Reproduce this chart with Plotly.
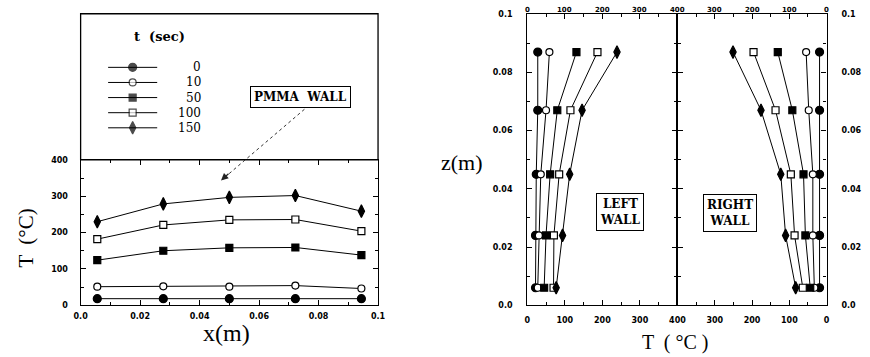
import plotly.graph_objects as go

# ---- data -------------------------------------------------------------
times = [0, 10, 50, 100, 150]          # s
time_labels = ["0", "10", "50", "100", "150"]

# PMMA wall: temperature along x
x_pos = [0.0056, 0.0278, 0.05, 0.0722, 0.0944]     # m
pmma_t0 = [18, 18, 18, 18, 18]
pmma_t10 = [51, 52, 51, 54, 46]
pmma_t50 = [124, 150, 158, 159, 138]
pmma_t100 = [182, 221, 235, 236, 204]
pmma_t150 = [230, 279, 297, 302, 259]

# side walls: temperature along z
z_pos = [0.006, 0.024, 0.045, 0.067, 0.087]         # m
left_t0 = [22, 22, 24, 28, 28]
left_t10 = [28, 31, 36, 50, 59]
left_t50 = [45, 50, 61, 80, 131]
left_t100 = [70, 71, 85, 115, 187]
left_t150 = [77, 94, 113, 146, 239]

right_t0 = [19, 19, 19, 19, 19]
right_t10 = [33, 37, 37, 48, 55]
right_t50 = [44, 57, 62, 92, 131]
right_t100 = [64, 86, 96, 137, 196]
right_t150 = [83, 110, 123, 176, 251]

x_ticks = [0, 0.02, 0.04, 0.06, 0.08, 0.1]
x_ticktext = ["0.0", "0.02", "0.04", "0.06", "0.08", "0.1"]
T_ticks = [0, 100, 200, 300, 400]
T_ticktext = ["0", "100", "200", "300", "400"]
z_ticks = [0, 0.02, 0.04, 0.06, 0.08, 0.1]
z_ticktext = ["0.0", "0.02", "0.04", "0.06", "0.08", "0.1"]

pmma_series = [pmma_t0, pmma_t10, pmma_t50, pmma_t100, pmma_t150]
left_series = [left_t0, left_t10, left_t50, left_t100, left_t150]
right_series = [right_t0, right_t10, right_t50, right_t100, right_t150]

# ---- page geometry (pixels) -------------------------------------------
W, H = 870, 357


def px(x):
    return x / W


def py(y):
    return 1 - y / H


L_X0, L_X1 = 75, 378        # left chart plot box
L_YB, L_YT = 309, 160       # lower panel (T axis)
BOX_TOP = 10                # legend box top
R_X0, R_MID, R_X1 = 530, 683, 835
R_YB, R_YT = 309, 10.5

# marker styles per time
sym = ["circle", "circle", "square", "square", "diamond-tall"]
fill = ["black", "white", "black", "white", "black"]
msize = [8, 7, 7, 7, 9]

tickfont = dict(family="DejaVu Sans", size=8, color="black", weight="bold")
topfont = dict(family="DejaVu Sans", size=7, color="black", weight="bold")
serif = "DejaVu Serif"


def axis(**kw):
    base = dict(showline=True, linecolor="black", linewidth=1.3,
                ticks="inside", ticklen=5, tickwidth=1, tickcolor="black",
                showgrid=False, zeroline=False, mirror="allticks",
                tickfont=tickfont)
    base.update(kw)
    return base


def minor(step):
    return dict(tickmode="linear", tick0=0, dtick=step, ticks="inside",
                ticklen=3, tickcolor="black")


fig = go.Figure()


def add_series(xs, ys, i, xa, ya, swap=False):
    fig.add_trace(go.Scatter(
        x=ys if swap else xs, y=xs if swap else ys,
        xaxis=xa, yaxis=ya, mode="lines+markers", showlegend=False,
        line=dict(color="black", width=1),
        marker=dict(symbol=sym[i], size=msize[i], color=fill[i],
                    line=dict(color="black", width=1.2)),
        hoverinfo="skip"))


for i in range(len(times)):
    add_series(x_pos, pmma_series[i], i, "x", "y")
    add_series(z_pos, left_series[i], i, "x3", "y3", swap=True)
    add_series(z_pos, right_series[i], i, "x4", "y4", swap=True)

# legend key drawn in the upper box (pixel-scaled helper axes)
key_x = [103, 128, 153]
for i in range(len(times)):
    row = 65 + 15.5 * i
    fig.add_trace(go.Scatter(
        x=key_x, y=[row] * 3, xaxis="x5", yaxis="y5",
        mode="lines+markers", showlegend=False, hoverinfo="skip",
        line=dict(color="black", width=1),
        marker=dict(symbol=sym[i], size=[0, msize[i], 0], color=fill[i],
                    line=dict(color="black", width=[0, 1.2, 0]))))


def note(x, y, text, size, family=serif, bold=False, **kw):
    d = dict(xref="paper", yref="paper", x=px(x), y=py(y), text=text,
             xanchor="center", yanchor="middle", showarrow=False,
             font=dict(family=family, size=size, color="black",
                       weight="bold" if bold else "normal"))
    d.update(kw)
    return d


annotations = []
for i, lab in enumerate(time_labels):
    annotations.append(dict(
        xref="x5", yref="y5", x=200, y=65 + 15.5 * i, text=lab,
        xanchor="right", yanchor="middle", showarrow=False,
        font=dict(family=serif, size=12, color="black")))
annotations.append(dict(
    xref="x5", yref="y5", x=155, y=33, text="t  (sec)", showarrow=False,
    xanchor="center", yanchor="middle",
    font=dict(family=serif, size=13, color="black", weight="bold")))

# boxed labels
box = dict(bordercolor="black", borderwidth=1, borderpad=3, align="center")
annotations.append(note(299.5, 95, "PMMA  WALL", 12, bold=True, **box))
annotations.append(note(624.5, 213.5, "LEFT<br>WALL", 12, bold=True, **box))
annotations.append(note(736.5, 214, "RIGHT<br>WALL", 12, bold=True, **box))

# pointer from the PMMA label to the curves: dotted shaft + arrow head
ARROW_TAIL = (303, 108)
ARROW_HEAD = (218, 181)
annotations.append(dict(
    xref="paper", yref="paper", x=px(ARROW_HEAD[0]), y=py(ARROW_HEAD[1]),
    text="", showarrow=True, ax=9, ay=-8, arrowhead=2, arrowsize=1.2,
    arrowwidth=1.2, arrowcolor="#222"))

# axis titles
annotations.append(note(224, 338, "x(m)", 24, family="Liberation Serif"))
annotations.append(note(19, 240, "T  (°C)", 21, family="Liberation Serif",
                        textangle=-90))
annotations.append(note(464, 163, "z(m)", 22, family="Liberation Serif"))
annotations.append(note(681, 347, "T  ( °C )", 20,
                        family="Liberation Serif"))

# top scale of the wall panels, squeezed against the page edge
for v, t in zip(T_ticks, T_ticktext):
    annotations.append(dict(
        xref="x3", yref="paper", x=v, y=py(0.5), text=t,
        showarrow=False, xanchor="center", yanchor="top", font=topfont))
for v, t in zip(T_ticks[:-1], T_ticktext[:-1]):
    annotations.append(dict(
        xref="x4", yref="paper", x=v, y=py(0.5), text=t,
        showarrow=False, xanchor="center", yanchor="top", font=topfont))

shapes = [
    dict(type="rect", xref="paper", yref="paper",
         x0=px(L_X0), x1=px(L_X1), y0=py(L_YT), y1=py(BOX_TOP),
         line=dict(color="black", width=1.3)),
    dict(type="line", xref="paper", yref="paper",
         x0=px(ARROW_TAIL[0]), y0=py(ARROW_TAIL[1]),
         x1=px(ARROW_HEAD[0] + 6), y1=py(ARROW_HEAD[1] - 5),
         line=dict(color="#333", width=1, dash="dot")),
]

fig.update_layout(
    width=W, height=H, margin=dict(l=0, r=0, t=0, b=0),
    paper_bgcolor="white", plot_bgcolor="white",
    showlegend=False, annotations=annotations, shapes=shapes,
    xaxis=axis(domain=[px(L_X0), px(L_X1)], anchor="y", range=[0, 0.1],
               tickmode="array", tickvals=x_ticks, ticktext=x_ticktext,
               ticklabelstandoff=3, minor=minor(0.01)),
    yaxis=axis(domain=[py(L_YB), py(L_YT)], anchor="x", range=[0, 400],
               tickmode="array", tickvals=T_ticks, ticktext=T_ticktext,
               ticklabelstandoff=10, minor=minor(50)),
    yaxis2=dict(overlaying="y", anchor="x", side="right", range=[0, 400],
                tickmode="array", tickvals=T_ticks, ticktext=T_ticktext,
                showline=False, ticks="", showgrid=False, zeroline=False,
                tickfont=tickfont, ticklabelstandoff=10),
    xaxis3=axis(domain=[px(R_X0), px(R_MID)], anchor="y3", range=[0, 400],
                tickmode="array", tickvals=T_ticks, ticktext=T_ticktext,
                ticklabelstandoff=7, minor=minor(50)),
    yaxis3=axis(domain=[py(R_YB), py(R_YT)], anchor="x3", range=[0, 0.1],
                side="left", tickmode="array", tickvals=z_ticks,
                ticktext=z_ticktext, ticklabelstandoff=12,
                minor=minor(0.01)),
    xaxis4=axis(domain=[px(R_MID), px(R_X1)], anchor="y4", range=[400, 0],
                tickmode="array", tickvals=T_ticks,
                ticktext=T_ticktext[:-1] + [""],
                ticklabelstandoff=7, minor=minor(50)),
    yaxis4=axis(domain=[py(R_YB), py(R_YT)], anchor="x4", range=[0, 0.1],
                side="right", tickmode="array", tickvals=z_ticks,
                ticktext=z_ticktext, ticklabelstandoff=12,
                minor=minor(0.01)),
    xaxis5=dict(domain=[px(L_X0), px(L_X1)], anchor="y5",
                range=[L_X0, L_X1], visible=False),
    yaxis5=dict(domain=[py(L_YT), py(BOX_TOP)], anchor="x5",
                range=[L_YT, BOX_TOP], visible=False),
)

fig.write_html("out.html")
